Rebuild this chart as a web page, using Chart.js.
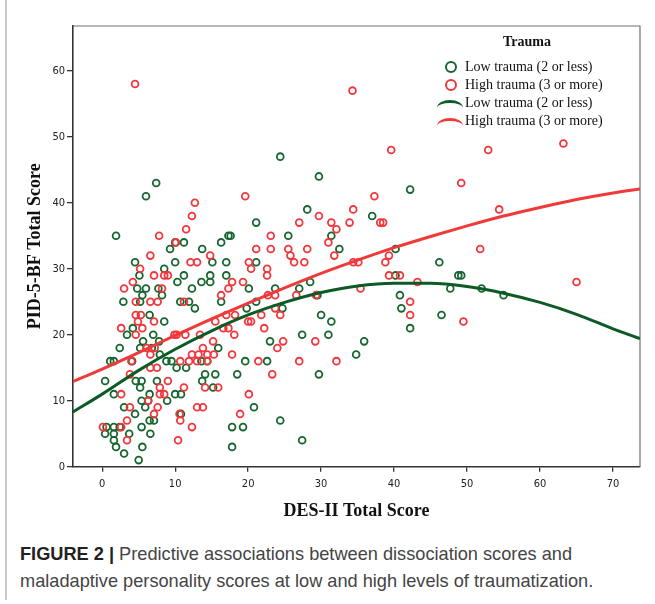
<!DOCTYPE html>
<html>
<head>
<meta charset="utf-8">
<script src="https://cdn.jsdelivr.net/npm/chart.js@4.4.1/dist/chart.umd.min.js"></script>
<style>
body{margin:0;background:#fff;}
#wrap{position:relative;width:655px;height:604px;overflow:hidden;background:#fff;}
#wrap .edge{position:absolute;left:5px;top:0;height:600px;border-left:2px solid #c9c9c9;}
#chart{position:absolute;left:0;top:0;}
#legend{position:absolute;left:436px;top:31px;width:190px;font:14px 'Liberation Serif','Times New Roman',serif;color:#111;}
#legend .ttl{width:182px;height:22px;line-height:22px;text-align:center;font-weight:bold;margin-bottom:4.7px;}
#legend .row{position:relative;height:18px;line-height:18px;padding-left:29px;white-space:nowrap;}
#legend .dot{position:absolute;left:9px;top:3px;width:8px;height:8px;border:2px solid;border-radius:50%;}
#legend .arc{position:absolute;left:1px;top:6px;width:26px;height:8px;border-top:3px solid;border-radius:50% 50% 0 0 / 100% 100% 0 0;box-sizing:border-box;}
.caption{position:absolute;left:20px;top:541px;width:620px;font:18.2px 'Liberation Sans',Arial,sans-serif;line-height:27px;color:#444;}
.caption b{color:#222;}
</style>
</head>
<body>
<div id="wrap">
  <div class="edge"></div>
  <canvas id="chart" width="655" height="540"></canvas>
  <div id="legend"></div>
  <div class="caption"><b>FIGURE 2 |</b> Predictive associations between dissociation scores and maladaptive personality scores at low and high levels of traumatization.</div>
</div>
<script>
// DADOS
const seriesLabels = ["Low trauma (2 or less)", "High trauma (3 or more)"];
const legendTitle = "Trauma";
const xTicks = [0, 10, 20, 30, 40, 50, 60, 70];
const yTicks = [0, 10, 20, 30, 40, 50, 60];

// low trauma points (DES-II, PID-5-BF)
const lowX = [52.0,55.0,24.4,29.7,42.2,28.1,37.0,25.5,31.4,32.5,40.2,46.2,48.8,49.2,28.5,27.0,23.7,40.2,47.7,40.8,
  29.5,41.0,42.2,46.5,30.0,31.4,27.4,31.0,35.9,34.8,29.7,24.4,27.4,24.7,23.0,
  1.9,6.0,7.4,21.1,9.3,10.0,11.2,17.3,17.6,16.3,13.7,4.5,10.0,15.1,17.0,21.1,5.1,8.5,11.2,14.8,
  17.0,10.3,13.6,14.8,4.8,6.0,7.7,12.3,20.1,5.5,8.2,2.9,5.2,10.7,11.9,16.3,21.1,
  12.7,6.5,8.5,4.2,3.4,7.0,5.6,7.8,2.4,5.2,6.8,1.1,1.6,4.1,7.9,8.8,9.5,13.6,14.4,15.9,19.6,22.6,
  10.2,11.5,15.5,14.1,18.5,0.4,4.6,5.4,7.5,13.7,5.2,15.2,1.6,10.0,10.8,6.5,5.4,6.3,8.9,5.9,3.0,20.8,
  4.5,6.5,7.1,10.8,0.6,1.6,2.4,0.4,1.6,3.7,5.4,6.6,1.6,1.9,5.5,3.0,5.0,17.8,19.3,17.8,19.8];
const lowY = [27,26,47,44,42,39,38,35,35,33,33,31,29,29,28,27,27,29,27,26,
  26,24,21,23,23,22,20,20,19,17,14,7,4,24,19,
  35,41,43,37,33,34,34,35,35,34,33,31,31,31,31,31,29,30,29,29,
  29,28,28,28,27,27,27,27,27,26,26,25,25,25,25,25,25,
  24,23,22,21,20,20,19,19,18,18,18,16,16,16,17,16,16,16,16,18,16,16,
  15,15,14,14,14,13,13,13,13,13,12,12,11,11,11,11,10,10,10,9,9,9,
  8,7,7,8,6,6,6,5,5,5,6,5,4,3,3,2,1,6,6,3,24];

// high trauma points
const highX = [4.5,34.3,52.9,63.2,54.4,51.8,65.0,39.6,49.2,37.3,34.4,29.7,27.0,31.4,33.9,38.1,38.5,32.1,23.1,31.0,
  23.1,25.5,28.1,25.8,31.8,39.3,26.3,27.7,34.4,35.1,38.8,39.3,40.8,43.2,35.4,26.6,22.7,
  42.2,42.2,49.5,23.7,23.7,24.4,29.3,24.8,24.0,29.2,27.0,32.1,23.3,
  12.7,12.3,11.5,19.6,7.8,10.1,6.6,12.1,13.0,14.8,21.1,20.1,5.2,20.4,22.6,7.1,8.5,9.0,22.6,4.2,
  17.8,19.3,3.0,8.2,17.3,16.3,4.6,6.6,7.6,11.2,
  4.6,5.3,4.9,2.6,5.5,4.6,7.1,9.9,10.2,11.4,13.4,6.1,6.6,7.2,12.3,13.8,15.2,13.2,14.4,15.3,
  10.7,11.9,13.0,14.4,17.8,18.2,17.0,16.6,17.3,18.1,15.5,20.0,20.4,21.8,22.2,21.4,3.8,6.6,7.5,9.0,
  7.9,8.5,7.9,6.3,2.6,3.8,7.6,7.1,3.4,10.6,10.7,0.1,2.6,3.4,10.4,12.3,13.0,13.8,15.9,14.1,
  11.2,20.1,18.9,4.0];
const highY = [58,57,48,49,39,33,28,48,43,41,39,38,37,37,37,37,37,36,35,34,
  33,33,33,32,32,32,31,31,31,31,31,29,29,28,27,26,26,
  25,23,22,26,24,23,26,19,18,19,16,16,14,
  40,38,36,41,35,34,32,31,31,32,33,31,30,30,30,29,29,29,29,28,
  28,28,27,27,27,26,25,25,25,25,
  23,23,22,21,21,20,22,20,20,20,20,18,17,18,17,18,19,17,17,17,
  16,16,16,16,17,23,23,21,21,20,22,22,22,23,21,16,14,15,15,13,
  12,11,11,10,11,9,9,8,7,8,7,6,6,4,4,6,9,9,12,12,
  12,11,8,16];

// quadratic fit lines
const fitX = [-4, 0, 5, 10, 15, 20, 25, 30, 35, 40, 45, 50, 55, 60, 65, 70, 73.7];
const lowFitY = [8.3, 11.0, 14.6, 17.8, 20.6, 23.0, 24.9, 26.4, 27.4, 27.8, 27.8, 27.3, 26.3, 24.9, 23.1, 20.9, 19.4];
const highFitY = [12.9, 14.8, 17.3, 19.9, 22.4, 24.8, 27.1, 29.3, 31.3, 33.2, 34.9, 36.5, 38.0, 39.3, 40.5, 41.5, 42.1];

const lowColor = "#17662f";
const highColor = "#f2363c";
const lowLine = "#0c5a26";
const highLine = "#f03a3a";

const pares = (xs, ys) => xs.map((x, i) => ({x: x, y: ys[i]}));

// moldura (topo e direita)
const moldura = {
  id: "moldura",
  beforeDatasetsDraw(chart){
    const {ctx, chartArea: a} = chart;
    ctx.save();
    ctx.strokeStyle = "#707070";
    ctx.lineWidth = 1.2;
    ctx.beginPath();
    ctx.moveTo(a.left, a.top);
    ctx.lineTo(a.right, a.top);
    ctx.lineTo(a.right, a.bottom);
    ctx.stroke();
    ctx.restore();
  }
};

const tickFont = {family: "'Liberation Sans Narrow','DejaVu Sans Condensed','Liberation Sans',sans-serif", size: 11};
const titleFont = {family: "'Liberation Serif','Times New Roman',serif", size: 18, weight: "bold"};

new Chart(document.getElementById("chart"), {
  type: "scatter",
  data: {
    datasets: [
      {label: seriesLabels[0], data: pares(lowX, lowY), pointRadius: 3.4, borderWidth: 1.8,
        borderColor: lowColor, backgroundColor: "rgba(0,0,0,0)", order: 2},
      {label: seriesLabels[1], data: pares(highX, highY), pointRadius: 3.4, borderWidth: 1.8,
        borderColor: highColor, backgroundColor: "rgba(0,0,0,0)", order: 1},
      {label: seriesLabels[0], type: "line", data: pares(fitX, lowFitY), borderColor: lowLine, borderWidth: 3,
        pointRadius: 0, cubicInterpolationMode: "monotone", fill: false, order: 0},
      {label: seriesLabels[1], type: "line", data: pares(fitX, highFitY), borderColor: highLine, borderWidth: 3,
        pointRadius: 0, cubicInterpolationMode: "monotone", fill: false, order: 0}
    ]
  },
  options: {
    responsive: false,
    animation: false,
    layout: {padding: {left: 0, top: 26, right: 15, bottom: 0}},
    plugins: {legend: {display: false}, tooltip: {enabled: false}},
    scales: {
      x: {
        type: "linear", min: -4, max: 73.7,
        afterBuildTicks: s => { s.ticks = xTicks.map(v => ({value: v})); },
        afterFit: s => { s.height = 73.3; },
        grid: {drawOnChartArea: false, tickLength: 5, color: "#333", lineWidth: 1.3},
        border: {color: "#333", width: 1.6},
        ticks: {font: tickFont, color: "#222", padding: 6, maxRotation: 0, autoSkip: false},
        title: {display: true, text: "DES-II Total Score", font: titleFont, color: "#111", padding: {top: 0, bottom: 18}}
      },
      y: {
        type: "linear", min: 0, max: 66.8,
        afterBuildTicks: s => { s.ticks = yTicks.map(v => ({value: v})); },
        afterFit: s => { s.width = 73; },
        grid: {drawOnChartArea: false, tickLength: 6, color: "#333", lineWidth: 1.3},
        border: {color: "#333", width: 1.6},
        ticks: {font: tickFont, color: "#222", padding: 2, autoSkip: false},
        title: {display: true, text: "PID-5-BF Total Score", font: titleFont, color: "#111", padding: {top: 25, bottom: 0}}
      }
    }
  },
  plugins: [moldura]
});

// LEGENDA
const legend = document.getElementById("legend");
const ttl = document.createElement("div");
ttl.className = "ttl";
ttl.textContent = legendTitle;
legend.appendChild(ttl);
[
  {cls: "dot", color: lowColor, text: seriesLabels[0]},
  {cls: "dot", color: highColor, text: seriesLabels[1]},
  {cls: "arc", color: lowLine, text: seriesLabels[0]},
  {cls: "arc", color: highLine, text: seriesLabels[1]}
].forEach(item => {
  const row = document.createElement("div");
  row.className = "row";
  const mk = document.createElement("span");
  mk.className = item.cls;
  mk.style.borderColor = item.color;
  row.appendChild(mk);
  row.appendChild(document.createTextNode(item.text));
  legend.appendChild(row);
});
</script>
</body>
</html>
